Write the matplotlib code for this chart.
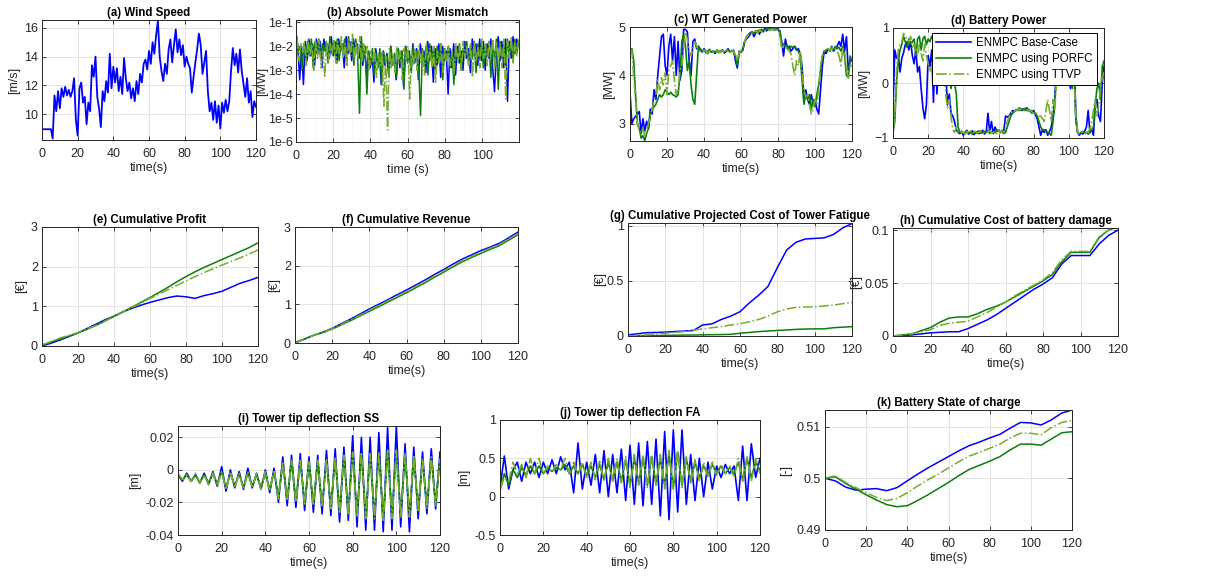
import numpy as np
import matplotlib
matplotlib.use("Agg")
import matplotlib.pyplot as plt
from matplotlib.ticker import MultipleLocator, LogLocator, NullFormatter

plt.rcParams['font.family'] = ['Liberation Sans', 'DejaVu Sans']

# ---------------- DATA ----------------
wind = [8.95, 8.95, 8.95, 8.95, 8.95, 8.95, 8.3, 11.3, 10.2, 11.6, 10.4, 11.8, 11.2, 11.9, 11.3, 11.7,
        11.2, 11.6, 12.5, 9.6, 8.5, 11.8, 12.2, 10.8, 11.2, 9.3, 10.8, 10.2, 13.4, 12.6, 14.0, 11.2,
        10.4, 9.1, 11.6, 10.9, 12.3, 11.5, 14.2, 11.8, 13.3, 12.2, 13.2, 11.6, 12.6, 11.4, 13.9, 12.5,
        11.6, 12.2, 11.1, 11.8, 10.9, 12.3, 11.4, 12.8, 12.2, 13.5, 13.8, 13.1, 14.4, 13.5, 15.0, 14.2,
        15.5, 16.5, 14.0, 13.0, 12.3, 13.5, 12.8, 14.5, 15.2, 13.6, 14.8, 15.9, 14.3, 15.2, 14.1, 14.8,
        13.3, 14.0, 13.5, 13.2, 11.5, 12.6, 13.6, 14.5, 15.6, 14.8, 12.8, 13.6, 14.4, 11.6, 10.2, 10.8,
        9.6, 10.9, 9.4, 10.6, 9.0, 10.8, 10.1, 11.0, 10.2, 10.9, 13.0, 14.6, 13.4, 14.2, 12.9, 14.5,
        13.0, 12.1, 11.2, 12.5, 10.8, 11.6, 9.8, 10.9, 10.5]

# log10 of absolute power mismatch [MW]
mis_base_exp = [-1.4, -2.1, -3.4, -2.0, -3.6, -1.8, -2.6, -1.7, -2.4, -1.9, -2.8, -1.7, -2.3, -1.8, -2.9, -1.7,
                -2.2, -1.9, -2.5, -1.6, -2.4, -1.8, -2.7, -1.7, -2.2, -1.9, -2.9, -1.6, -2.3, -1.8, -2.6, -1.7,
                -2.2, -1.9, -2.5, -1.8, -2.8, -2.0, -3.2, -2.2, -2.9, -2.3, -3.5, -2.1, -2.7, -2.4, -3.6, -2.2,
                -2.8, -2.3, -3.3, -2.0, -2.7, -2.5, -3.4, -2.1, -2.9, -2.2, -3.7, -2.0, -2.6, -2.2, -3.0, -1.9,
                -2.7, -2.1, -3.4, -1.9, -2.5, -2.2, -3.1, -1.8, -2.6, -2.0, -3.5, -2.1, -2.8, -1.9, -3.3, -2.0,
                -2.6, -2.2, -4.0, -2.1, -2.9, -1.9, -3.2, -2.0, -2.7, -2.2, -3.0, -1.8, -2.5, -2.1, -3.1, -1.7,
                -2.4, -1.9, -2.8, -1.7, -2.6, -1.8, -3.0, -1.9, -2.5, -1.7, -2.9, -3.9, -2.3, -1.6, -2.6, -1.8,
                -2.9, -1.7, -4.3, -1.8, -2.5, -1.6, -2.3, -1.7, -2.0]
mis_porfc_exp = [-1.6, -2.2, -2.0, -3.0, -1.9, -2.6, -1.8, -2.4, -1.7, -2.9, -1.8, -2.3, -1.7, -2.5, -1.9, -2.2,
                 -1.8, -2.7, -1.6, -2.3, -1.8, -2.4, -1.7, -2.6, -1.9, -2.2, -1.7, -2.5, -1.6, -2.3, -1.8, -2.8,
                 -1.7, -2.4, -4.8, -1.6, -2.6, -2.0, -4.0, -2.2, -2.8, -2.1, -3.2, -2.3, -2.9, -2.1, -3.6, -2.2,
                 -2.7, -2.4, -3.1, -2.0, -2.8, -2.3, -3.3, -2.1, -2.6, -2.2, -3.8, -2.0, -2.7, -2.3, -3.1, -2.0,
                 -2.6, -2.2, -2.9, -4.9, -2.1, -2.8, -2.0, -3.2, -1.9, -2.6, -2.1, -3.0, -2.0, -2.7, -1.9, -3.4,
                 -2.1, -2.5, -2.0, -2.9, -2.2, -3.6, -2.0, -2.6, -1.9, -3.0, -2.1, -2.4, -1.8, -2.8, -2.0, -2.5,
                 -1.8, -3.1, -1.9, -2.6, -1.8, -2.9, -2.0, -2.4, -1.8, -3.3, -1.9, -2.6, -1.7, -3.8, -1.8, -2.5,
                 -1.9, -2.8, -1.7, -2.4, -1.8, -2.6, -1.7, -2.3, -1.8]
mis_ttvp_exp = [-1.7, -2.6, -1.9, -2.3, -1.8, -2.8, -1.7, -2.4, -1.9, -3.0, -1.8, -2.5, -1.7, -2.9, -2.2, -3.3,
                -1.8, -2.6, -1.9, -2.4, -1.7, -2.7, -1.8, -2.3, -1.6, -2.5, -1.9, -2.8, -1.7, -2.4, -1.5, -2.6,
                -1.8, -2.5, -1.6, -2.7, -1.9, -2.4, -2.0, -3.0, -2.2, -2.7, -2.1, -3.3, -2.3, -2.8, -2.2, -4.5,
                -2.4, -5.5, -2.1, -2.9, -2.3, -3.1, -2.0, -2.7, -2.2, -3.4, -2.1, -2.6, -2.0, -4.2, -2.2, -2.8,
                -2.1, -3.0, -2.0, -2.7, -2.2, -3.2, -1.9, -2.6, -2.1, -2.9, -2.0, -3.5, -2.2, -2.7, -1.9, -3.1,
                -2.1, -2.6, -2.0, -2.8, -2.2, -3.2, -1.9, -2.7, -2.0, -3.0, -1.8, -2.5, -2.0, -2.8, -1.9, -3.3,
                -1.8, -2.6, -2.0, -2.9, -1.7, -2.5, -1.9, -2.8, -1.8, -2.4, -1.7, -3.0, -1.8, -2.6, -1.9, -2.9,
                -1.7, -4.2, -1.8, -2.5, -1.6, -2.7, -1.8, -2.4, -1.7]

pw_base = [3.65, 3.0, 3.1, 3.15, 3.2, 3.25, 2.8, 3.1, 2.85, 3.05, 2.9, 3.3, 3.2, 3.7, 3.5, 4.0, 4.4, 4.8, 4.85,
           4.2, 4.0, 4.6, 4.85, 4.3, 4.8, 4.0, 4.7, 3.9, 4.1, 4.95, 4.95, 4.9, 4.3, 4.0, 4.7, 4.75, 4.55, 4.6,
           4.52, 4.48, 4.55, 4.5, 4.45, 4.52, 4.48, 4.5, 4.45, 4.52, 4.47, 4.5, 4.53, 4.46, 4.5, 4.55, 4.48,
           4.5, 4.52, 4.3, 4.15, 4.5, 4.48, 4.52, 4.7, 4.75, 4.8, 4.85, 4.9, 4.8, 4.88, 4.92, 4.85, 4.95, 4.9,
           4.97, 4.92, 5.0, 4.95, 4.98, 4.93, 4.97, 4.95, 4.92, 4.7, 4.4, 4.75, 4.55, 4.6, 4.5, 4.55, 4.6, 4.52,
           4.55, 4.45, 4.2, 3.5, 3.7, 3.5, 3.4, 3.6, 3.4, 3.5, 3.3, 3.2, 3.7, 4.2, 4.5, 4.45, 4.55, 4.5, 4.6,
           4.5, 4.55, 4.6, 4.7, 4.6, 4.85, 4.5, 4.8, 4.1, 4.3, 4.3]
pw_porfc = [4.5, 4.55, 4.3, 3.6, 3.0, 2.9, 2.7, 2.75, 2.65, 2.8, 2.9, 3.2, 3.3, 3.35, 3.4, 3.5, 3.6, 3.55, 3.6,
            3.7, 3.65, 3.6, 3.65, 3.6, 3.58, 3.55, 3.6, 4.0, 4.7, 4.85, 4.6, 4.1, 4.3, 3.8, 3.5, 3.4, 4.0, 4.6,
            4.55, 4.5, 4.52, 4.47, 4.5, 4.54, 4.48, 4.5, 4.46, 4.52, 4.5, 4.48, 4.53, 4.47, 4.5, 4.52, 4.49,
            4.51, 4.48, 4.4, 4.2, 4.45, 4.5, 4.55, 4.7, 4.8, 4.85, 4.88, 4.9, 4.86, 4.92, 4.9, 4.94, 4.9, 4.95,
            4.93, 4.96, 4.94, 4.97, 4.95, 4.96, 4.94, 4.95, 4.9, 4.6, 4.65, 4.6, 4.62, 4.55, 4.6, 4.58, 4.6,
            4.55, 4.5, 4.4, 3.9, 3.4, 3.6, 3.5, 3.6, 3.3, 3.5, 3.35, 3.6, 3.8, 4.1, 4.4, 4.5, 4.52, 4.55, 4.5,
            4.58, 4.52, 4.6, 4.55, 4.58, 4.5, 4.6, 4.4, 4.0, 3.95, 4.4, 4.3]
pw_ttvp = [4.55, 4.5, 4.0, 3.5, 3.0, 2.85, 2.8, 2.9, 2.75, 2.85, 3.0, 3.15, 3.3, 3.5, 3.6, 3.9, 3.7, 3.95, 3.8,
           4.05, 3.6, 4.1, 4.2, 4.3, 3.9, 3.6, 3.7, 4.1, 4.2, 4.6, 4.9, 4.75, 4.5, 4.4, 4.55, 4.7, 4.6, 4.52,
           4.5, 4.48, 4.52, 4.5, 4.46, 4.5, 4.53, 4.48, 4.5, 4.51, 4.47, 4.5, 4.52, 4.48, 4.5, 4.53, 4.47,
           4.5, 4.5, 4.42, 4.3, 4.48, 4.5, 4.55, 4.7, 4.78, 4.85, 4.88, 4.87, 4.9, 4.92, 4.88, 4.93, 4.9,
           4.95, 4.92, 4.94, 4.95, 4.93, 4.96, 4.94, 4.95, 4.93, 4.85, 4.55, 4.6, 4.6, 4.55, 4.5, 4.45, 4.2,
           4.0, 4.3, 4.2, 4.5, 4.1, 3.7, 3.55, 3.6, 3.4, 3.2, 3.3, 3.5, 3.4, 3.7, 4.2, 4.4, 4.5, 4.52, 4.55,
           4.5, 4.58, 4.52, 4.55, 4.5, 4.4, 4.2, 4.55, 4.5, 4.1, 3.95, 4.2, 4.2]

bp_base = [-0.5, 0.6, 0.45, 0.5, 0.2, 0.45, 0.55, 0.7, 0.75, 0.6, 0.75, 0.5, 0.35, 0.6, 0.2, 0.3, -0.1, -0.45,
           -0.65, -0.4, 0.5, 0.3, 0.6, -0.35, 0.6, -0.2, 0.4, 0.7, 0.9, 0.8, 0.2, -0.4, -0.2, -0.55, -0.6, -0.7,
           -0.85, -0.9, -0.92, -0.88, -0.95, -0.9, -0.86, -0.93, -0.9, -0.87, -0.94, -0.9, -0.88, -0.92, -0.9,
           -0.86, -0.93, -0.89, -0.55, -0.9, -0.7, -0.92, -0.8, -0.88, -0.85, -0.9, -0.86, -0.88, -0.6, -0.62,
           -0.6, -0.55, -0.5, -0.52, -0.48, -0.5, -0.45, -0.5, -0.47, -0.5, -0.45, -0.5, -0.5, -0.55, -0.5,
           -0.58, -0.65, -0.8, -0.95, -0.85, -0.9, -0.85, -0.95, -0.88, -0.8, -0.6, -0.3, 0.3, 0.8, 0.7, 0.75,
           0.85, 0.4, 0.0, 0.1, -0.1, 0.2, 0.5, -0.6, -0.9, -0.95, -0.9, -0.93, -0.88, -0.8, -0.5, -0.9, -0.85,
           -0.95, -0.4, -0.3, -0.6, -0.7, 0.0, 0.3]
bp_porfc = [-0.9, -0.7, 0.0, 0.4, 0.6, 0.7, 0.85, 0.75, 0.65, 0.8, 0.7, 0.75, 0.8, 0.5, 0.8, 0.85, 0.6, 0.8,
            0.85, 0.7, 0.8, 0.75, 0.85, 0.8, 0.9, 0.85, 0.9, 0.75, 0.8, 0.6, 0.3, 0.6, 0.2, -0.1, 0.1, 0.0,
            -0.2, -0.8, -0.9, -0.88, -0.92, -0.9, -0.87, -0.91, -0.89, -0.93, -0.88, -0.9, -0.92, -0.87,
            -0.9, -0.91, -0.88, -0.9, -0.86, -0.92, -0.89, -0.9, -0.9, -0.87, -0.85, -0.9, -0.88, -0.92,
            -0.9, -0.8, -0.7, -0.6, -0.55, -0.52, -0.5, -0.48, -0.5, -0.47, -0.5, -0.46, -0.5, -0.48, -0.52,
            -0.5, -0.55, -0.55, -0.6, -0.7, -0.8, -0.85, -0.85, -0.88, -0.9, -0.92, -0.95, -0.7, -0.4, 0.2,
            0.8, 0.85, 0.6, 0.9, 0.5, 0.1, 0.2, 0.0, -0.1, 0.3, -0.7, -0.9, -0.92, -0.9, -0.88, -0.91, -0.9,
            -0.93, -0.9, -0.85, -0.8, -0.4, -0.1, 0.0, -0.3, 0.3, 0.4]
bp_ttvp = [-0.85, -0.6, 0.2, 0.6, 0.7, 0.75, 0.9, 0.85, 0.8, 0.75, 0.85, 0.65, 0.7, 0.6, 0.5, 0.7, 0.55, 0.4,
           0.7, 0.5, 0.35, 0.2, 0.3, 0.6, 0.45, 0.6, 0.7, 0.8, 0.75, 0.4, -0.2, -0.45, -0.3, -0.6, -0.85,
           -0.9, -0.8, -0.9, -0.92, -0.88, -0.9, -0.93, -0.89, -0.9, -0.87, -0.92, -0.9, -0.88, -0.91, -0.9,
           -0.87, -0.92, -0.9, -0.88, -0.9, -0.86, -0.91, -0.9, -0.88, -0.92, -0.85, -0.9, -0.86, -0.9,
           -0.82, -0.7, -0.62, -0.55, -0.5, -0.52, -0.48, -0.5, -0.46, -0.5, -0.48, -0.5, -0.47, -0.52,
           -0.5, -0.53, -0.55, -0.52, -0.58, -0.6, -0.6, -0.65, -0.7, -0.5, -0.3, -0.5, -0.7, -0.3, -0.5,
           0.1, 0.5, 0.9, 0.85, 0.7, 0.3, 0.4, 0.1, 0.3, 0.0, 0.1, -0.6, -0.9, -0.92, -0.88, -0.9, -0.93,
           -0.9, -0.88, -0.85, -0.7, -0.5, -0.3, -0.6, -0.4, -0.1, 0.1, 0.2]

# cumulative series sampled every 5 s (0..120)
profit_base = [0.0, 0.07, 0.15, 0.24, 0.33, 0.44, 0.55, 0.66, 0.75, 0.86, 0.95, 1.03, 1.1, 1.16, 1.22, 1.26,
               1.24, 1.2, 1.27, 1.32, 1.38, 1.48, 1.58, 1.65, 1.73]
profit_porfc = [0.02, 0.1, 0.18, 0.25, 0.33, 0.42, 0.52, 0.63, 0.75, 0.86, 0.98, 1.1, 1.22, 1.35, 1.48, 1.62,
                1.75, 1.87, 1.98, 2.08, 2.18, 2.28, 2.38, 2.48, 2.6]
profit_ttvp = [0.03, 0.11, 0.2, 0.27, 0.34, 0.43, 0.52, 0.63, 0.74, 0.85, 0.97, 1.08, 1.2, 1.31, 1.42, 1.53,
               1.64, 1.75, 1.85, 1.95, 2.04, 2.13, 2.22, 2.32, 2.42]
rev_base = [0.0, 0.1, 0.2, 0.28, 0.38, 0.5, 0.62, 0.75, 0.88, 1.0, 1.12, 1.25, 1.37, 1.5, 1.63, 1.77, 1.9,
            2.04, 2.17, 2.28, 2.39, 2.48, 2.58, 2.72, 2.87]
rev_porfc = [0.02, 0.1, 0.2, 0.27, 0.36, 0.47, 0.58, 0.7, 0.82, 0.94, 1.06, 1.18, 1.3, 1.43, 1.56, 1.7,
             1.83, 1.97, 2.1, 2.21, 2.32, 2.42, 2.52, 2.66, 2.8]
rev_ttvp = [0.01, 0.1, 0.2, 0.28, 0.37, 0.48, 0.6, 0.72, 0.85, 0.97, 1.09, 1.21, 1.33, 1.46, 1.59, 1.73,
            1.86, 2.0, 2.13, 2.24, 2.35, 2.45, 2.55, 2.69, 2.83]
tower_base = [0.01, 0.02, 0.03, 0.032, 0.035, 0.04, 0.045, 0.05, 0.1, 0.11, 0.15, 0.18, 0.22, 0.3, 0.37,
              0.45, 0.62, 0.78, 0.85, 0.88, 0.885, 0.89, 0.92, 0.98, 1.02]
tower_porfc = [0.0, 0.002, 0.003, 0.004, 0.005, 0.007, 0.008, 0.009, 0.01, 0.012, 0.013, 0.015, 0.025, 0.032,
               0.04, 0.045, 0.05, 0.055, 0.06, 0.063, 0.065, 0.065, 0.075, 0.08, 0.085]
tower_ttvp = [0.0, 0.005, 0.01, 0.018, 0.025, 0.033, 0.04, 0.052, 0.065, 0.075, 0.085, 0.1, 0.11, 0.13, 0.15,
              0.18, 0.22, 0.245, 0.26, 0.263, 0.265, 0.272, 0.28, 0.293, 0.305]
batt_base = [0.0, 0.0005, 0.001, 0.002, 0.003, 0.0035, 0.004, 0.004, 0.007, 0.011, 0.015, 0.02, 0.026,
             0.032, 0.038, 0.044, 0.049, 0.055, 0.068, 0.076, 0.076, 0.076, 0.087, 0.095, 0.1]
batt_porfc = [0.0, 0.001, 0.002, 0.005, 0.008, 0.013, 0.017, 0.018, 0.018, 0.021, 0.025, 0.028, 0.032,
              0.037, 0.042, 0.047, 0.052, 0.058, 0.07, 0.079, 0.079, 0.079, 0.093, 0.1, 0.103]
batt_ttvp = [0.0, 0.001, 0.002, 0.004, 0.006, 0.01, 0.012, 0.013, 0.014, 0.018, 0.022, 0.027, 0.032, 0.038,
             0.043, 0.048, 0.053, 0.06, 0.072, 0.08, 0.08, 0.08, 0.094, 0.1, 0.104]
soc_base = [0.5, 0.4995, 0.4983, 0.4977, 0.4979, 0.498, 0.4976, 0.4982, 0.4995, 0.5008, 0.502, 0.5031,
            0.5042, 0.5053, 0.5063, 0.507, 0.5078, 0.5085, 0.5097, 0.5108, 0.5107, 0.5103, 0.5113, 0.5126, 0.5132]
soc_porfc = [0.5, 0.5003, 0.499, 0.4979, 0.4968, 0.4958, 0.4949, 0.4945, 0.4947, 0.4957, 0.4968, 0.498,
             0.4992, 0.5005, 0.5017, 0.5025, 0.5033, 0.5042, 0.5055, 0.5066, 0.5066, 0.5064, 0.5076, 0.5088, 0.509]
soc_ttvp = [0.5, 0.5005, 0.4992, 0.4982, 0.4972, 0.4963, 0.4957, 0.4961, 0.4972, 0.4985, 0.4997, 0.5008,
            0.502, 0.5032, 0.5043, 0.505, 0.5058, 0.5066, 0.5078, 0.5087, 0.5087, 0.5084, 0.5098, 0.5108, 0.5112]

# tower tip deflection, extremes every 2 s (0..120)
ss_base = [-0.003, -0.007, -0.002, -0.007, -0.003, -0.008, -0.002, -0.009, -0.001, -0.010, 0.002, -0.013,
           -0.000, -0.011, -0.001, -0.012, 0.001, -0.011, -0.002, -0.012, -0.000, -0.014, 0.001, -0.020,
           0.008, -0.022, 0.009, -0.023, 0.010, -0.025, 0.008, -0.026, 0.009, -0.027, 0.012, -0.028, 0.013,
           -0.032, 0.014, -0.031, 0.021, -0.035, 0.020, -0.037, 0.020, -0.037, 0.023, -0.038, 0.026, -0.037,
           0.027, -0.035, 0.016, -0.038, 0.014, -0.030, 0.011, -0.027, 0.013, -0.024, 0.011]
ss_porfc = [-0.003, -0.006, -0.003, -0.007, -0.003, -0.008, -0.003, -0.008, -0.002, -0.009, -0.001, -0.011,
            -0.002, -0.010, -0.002, -0.011, -0.002, -0.010, -0.003, -0.011, -0.002, -0.012, -0.001, -0.016,
            0.004, -0.018, 0.005, -0.019, 0.005, -0.020, 0.004, -0.021, 0.005, -0.022, 0.006, -0.023, 0.007,
            -0.025, 0.008, -0.026, 0.010, -0.027, 0.010, -0.028, 0.009, -0.028, 0.010, -0.029, 0.011, -0.028,
            0.011, -0.027, 0.009, -0.027, 0.008, -0.024, 0.006, -0.022, 0.007, -0.020, 0.006]
ss_ttvp = [-0.002, -0.006, -0.003, -0.007, -0.002, -0.008, -0.003, -0.009, -0.002, -0.010, -0.001, -0.012,
           -0.001, -0.011, -0.002, -0.012, -0.001, -0.011, -0.002, -0.012, -0.001, -0.013, 0.000, -0.018,
           0.005, -0.019, 0.006, -0.020, 0.006, -0.022, 0.005, -0.022, 0.006, -0.023, 0.007, -0.025, 0.008,
           -0.027, 0.009, -0.028, 0.011, -0.029, 0.011, -0.030, 0.010, -0.030, 0.011, -0.031, 0.012, -0.030,
           0.012, -0.029, 0.010, -0.029, 0.009, -0.026, 0.007, -0.024, 0.008, -0.022, 0.007]
fa_base = [0.12, 0.53, 0.1, 0.35, 0.45, 0.2, 0.45, 0.3, 0.45, 0.25, 0.45, 0.3, 0.48, 0.3, 0.52, 0.35, 0.45,
           0.05, 0.7, 0.1, 0.45, 0.15, 0.55, 0.05, 0.6, 0.0, 0.55, 0.05, 0.62, -0.05, 0.67, -0.1, 0.7, -0.12,
           0.72, -0.1, 0.75, -0.25, 0.85, -0.3, 0.87, -0.2, 0.87, -0.1, 0.55, -0.05, 0.5, 0.0, 0.45, 0.1, 0.4,
           0.25, 0.42, 0.3, 0.4, -0.05, 0.66, -0.05, 0.69, 0.25, 0.5]
fa_porfc = [0.08, 0.3, 0.15, 0.35, 0.25, 0.38, 0.28, 0.4, 0.3, 0.4, 0.3, 0.37, 0.33, 0.38, 0.35, 0.42, 0.3,
            0.4, 0.3, 0.42, 0.28, 0.4, 0.25, 0.42, 0.22, 0.45, 0.22, 0.45, 0.2, 0.48, 0.15, 0.5, 0.18, 0.5,
            0.15, 0.52, 0.17, 0.5, 0.15, 0.55, 0.12, 0.58, 0.15, 0.5, 0.2, 0.45, 0.25, 0.4, 0.28, 0.42, 0.3,
            0.4, 0.3, 0.38, 0.3, 0.45, 0.22, 0.5, 0.25, 0.45, 0.35]
fa_ttvp = [0.1, 0.25, 0.2, 0.45, 0.3, 0.42, 0.25, 0.5, 0.3, 0.5, 0.3, 0.4, 0.32, 0.42, 0.35, 0.5, 0.3, 0.45,
           0.28, 0.45, 0.25, 0.45, 0.22, 0.48, 0.2, 0.5, 0.2, 0.5, 0.18, 0.52, 0.12, 0.55, 0.15, 0.55, 0.12,
           0.55, 0.15, 0.55, 0.1, 0.6, 0.1, 0.6, 0.12, 0.52, 0.18, 0.48, 0.2, 0.45, 0.25, 0.45, 0.28, 0.42,
           0.3, 0.4, 0.25, 0.5, 0.2, 0.52, 0.2, 0.5, 0.3]

labels = ['ENMPC Base-Case', 'ENMPC using PORFC', 'ENMPC using TTVP']

# ---------------- STYLE ----------------
C_BASE = '#0000ff'
C_PORFC = '#0b7f0b'
C_TTVP = '#77ac30'
TXT = '#262626'
GRID = '#e3e3e3'
FS_TICK = 9
FS_LAB = 9
FS_TITLE = 8.3

W, H = 1205, 578
fig = plt.figure(figsize=(W / 100, H / 100), dpi=100)
fig.patch.set_facecolor('white')


def make_ax(x0, x1, ytop, ybot):
    return fig.add_axes([x0 / W, 1 - ybot / H, (x1 - x0) / W, (ybot - ytop) / H])


def style(ax, title, ylabel, xlabel='time(s)'):
    ax.set_title(title, fontsize=FS_TITLE, fontweight='bold', pad=3, color='black')
    ax.set_ylabel(ylabel, fontsize=FS_LAB, color=TXT, labelpad=3)
    ax.set_xlabel(xlabel, fontsize=FS_LAB, color=TXT, labelpad=1.5)
    ax.tick_params(direction='in', length=3, width=0.6, labelsize=FS_TICK, colors=TXT,
                   top=True, right=True)
    ax.tick_params(axis='x', pad=6)
    ax.tick_params(axis='y', pad=3)
    for s in ax.spines.values():
        s.set_color(TXT)
        s.set_linewidth(0.7)
    ax.grid(True, color=GRID, linewidth=0.7)
    ax.set_axisbelow(True)


def tx(arr, end=120.0):
    return np.linspace(0, end, len(arr))


def three(ax, b, p, t, lw=1.2):
    ax.plot(tx(b), b, color=C_BASE, lw=lw, label=labels[0])
    ax.plot(tx(p), p, color=C_PORFC, lw=lw, label=labels[1])
    ax.plot(tx(t), t, color=C_TTVP, lw=lw, ls='-.', label=labels[2])


xt = [0, 20, 40, 60, 80, 100, 120]

# (a)
ax = make_ax(42, 256, 20, 140)
ax.plot(tx(wind), wind, color=C_BASE, lw=1.3)
ax.set_xlim(0, 120); ax.set_ylim(8.2, 16.55)
ax.set_xticks(xt); ax.set_yticks([10, 12, 14, 16])
style(ax, '(a) Wind Speed', '[m/s]')

# (b)
ax = make_ax(296, 519, 20, 142)
ax.plot(np.linspace(0, 119.6, len(mis_base_exp)), 10.0 ** np.array(mis_base_exp), color=C_BASE, lw=1.1)
ax.plot(np.linspace(0.3, 119.6, len(mis_porfc_exp)), 10.0 ** np.array(mis_porfc_exp), color=C_PORFC, lw=1.1)
ax.plot(np.linspace(0.6, 119.6, len(mis_ttvp_exp)), 10.0 ** np.array(mis_ttvp_exp), color=C_TTVP, lw=1.1, ls='-.')
ax.set_yscale('log')
ax.set_xlim(0, 119.8); ax.set_ylim(1e-6, 1.25e-1)
ax.set_xticks([0, 20, 40, 60, 80, 100])
ax.set_yticks([1e-6, 1e-5, 1e-4, 1e-3, 1e-2, 1e-1])
ax.set_yticklabels(['1e-6', '1e-5', '1e-4', '1e-3', '1e-2', '1e-1'])
ax.yaxis.set_minor_locator(LogLocator(base=10, subs=np.arange(2, 10)))
ax.yaxis.set_minor_formatter(NullFormatter())
ax.xaxis.set_minor_locator(MultipleLocator(5))
style(ax, '(b) Absolute Power Mismatch', '[MW]', 'time (s)')
ax.yaxis.labelpad = 0
ax.tick_params(axis='y', which='major', pad=2)
ax.tick_params(which='minor', length=0)
ax.grid(True, which='minor', color='#e6e6e6', linewidth=0.5, ls=':')

# (c)
ax = make_ax(630, 852, 27, 141)
three(ax, pw_base, pw_porfc, pw_ttvp)
ax.set_xlim(0, 120); ax.set_ylim(2.64, 5.0)
ax.set_xticks(xt); ax.set_yticks([3, 4, 5])
style(ax, '(c) WT Generated Power', '[MW]')

# (d)
ax = make_ax(893, 1104, 28, 138)
three(ax, bp_base, bp_porfc, bp_ttvp)
ax.set_xlim(0, 120); ax.set_ylim(-1, 1)
ax.set_xticks(xt); ax.set_yticks([-1, 0, 1])
style(ax, '(d) Battery Power', '[MW]')
leg = ax.legend(loc='upper right', bbox_to_anchor=(1097 / W, 1 - 33 / H), bbox_transform=fig.transFigure,
                fontsize=8.3, frameon=True, fancybox=False, edgecolor='black', framealpha=1,
                handlelength=3.0, borderpad=0.35, labelspacing=0.35, handletextpad=0.5, borderaxespad=0)
leg.get_frame().set_linewidth(0.7)

# (e)
ax = make_ax(42, 258, 227, 346)
three(ax, profit_base, profit_porfc, profit_ttvp, lw=1.1)
ax.set_xlim(0, 120); ax.set_ylim(0, 3)
ax.set_xticks(xt); ax.set_yticks([0, 1, 2, 3])
style(ax, '(e) Cumulative Profit', '[€]')

# (f)
ax = make_ax(295, 518, 227, 343)
three(ax, rev_base, rev_porfc, rev_ttvp, lw=1.1)
ax.set_xlim(0, 120); ax.set_ylim(0, 3)
ax.set_xticks(xt); ax.set_yticks([0, 1, 2, 3])
style(ax, '(f) Cumulative Revenue', '[€]')

# (g)
ax = make_ax(628, 852, 223, 336)
three(ax, tower_base, tower_porfc, tower_ttvp, lw=1.1)
ax.set_xlim(0, 120); ax.set_ylim(0, 1.025)
ax.set_xticks(xt); ax.set_yticks([0, 0.5, 1]); ax.set_yticklabels(['0', '0.5', '1'])
style(ax, '(g) Cumulative Projected Cost of Tower Fatigue', '[€]')
ax.yaxis.labelpad = 0

# (h)
ax = make_ax(893, 1118, 228, 336)
three(ax, batt_base, batt_porfc, batt_ttvp, lw=1.1)
ax.set_xlim(0, 120); ax.set_ylim(0, 0.102)
ax.set_xticks(xt); ax.set_yticks([0, 0.05, 0.1]); ax.set_yticklabels(['0', '0.05', '0.1'])
style(ax, '(h) Cumulative Cost of battery damage', '[€]')
ax.yaxis.labelpad = 2

# (i)
ax = make_ax(178, 440, 426, 535)
three(ax, ss_base, ss_porfc, ss_ttvp)
ax.set_xlim(0, 120); ax.set_ylim(-0.04, 0.027)
ax.set_xticks(xt); ax.set_yticks([-0.04, -0.02, 0, 0.02])
ax.set_yticklabels(['-0.04', '-0.02', '0', '0.02'])
style(ax, '(i) Tower tip deflection SS', '[m]')

# (j)
ax = make_ax(500, 760, 420, 535)
three(ax, fa_base, fa_porfc, fa_ttvp)
ax.set_xlim(0, 120); ax.set_ylim(-0.5, 1)
ax.set_xticks(xt); ax.set_yticks([-0.5, 0, 0.5, 1]); ax.set_yticklabels(['-0.5', '0', '0.5', '1'])
style(ax, '(j) Tower tip deflection FA', '[m]')

# (k)
ax = make_ax(825, 1072, 410, 530)
three(ax, soc_base, soc_porfc, soc_ttvp, lw=1.1)
ax.set_xlim(0, 120); ax.set_ylim(0.49, 0.5132)
ax.set_xticks(xt); ax.set_yticks([0.49, 0.5, 0.51]); ax.set_yticklabels(['0.49', '0.5', '0.51'])
style(ax, '(k) Battery State of charge', '[-]')

fig.savefig('out.png', dpi=100, facecolor='white')
